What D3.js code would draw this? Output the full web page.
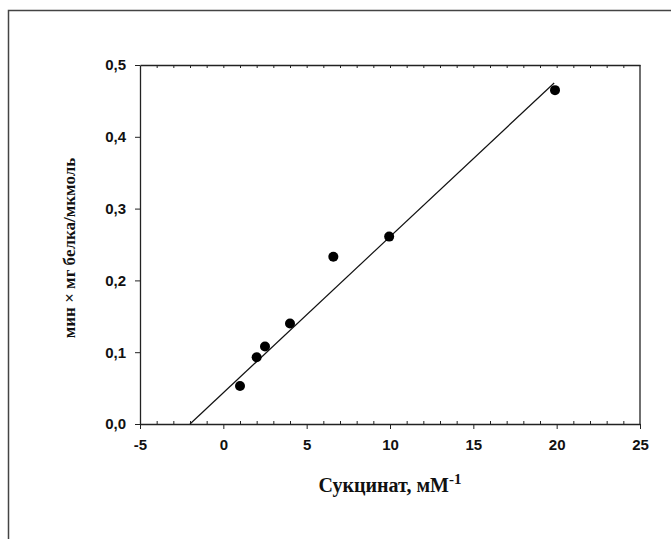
<!DOCTYPE html>
<html lang="ru">
<head>
  <meta charset="UTF-8">
  <title>Сукцинат</title>
  <script src="https://d3js.org/d3.v7.min.js"></script>
  <style>
    body {
      margin: 0;
      padding: 0;
      background: #fff;
    }
    .tick text {
      font-family: "Liberation Sans", Arial, sans-serif;
      font-weight: bold;
      font-size: 15px;
      fill: #111;
    }
    .axis-title {
      font-family: "Liberation Serif", "Times New Roman", serif;
      font-weight: bold;
      fill: #111;
    }
  </style>
</head>
<body>
  <div id="chart"></div>

  <script>
    // measured points (x = 1/[succinate], y = 1/v)
    const pointX = [1.0, 2.0, 2.5, 4.0, 6.6, 9.95, 19.9];
    const pointY = [0.053, 0.093, 0.108, 0.140, 0.233, 0.261, 0.465];

    // regression line ends
    const fitX = [-2.0, 19.85];
    const fitY = [0.0, 0.475];

    const xTicks = [-5, 0, 5, 10, 15, 20, 25];
    const yTicks = [0.0, 0.1, 0.2, 0.3, 0.4, 0.5];

    const width = 671, height = 539;

    const svg = d3.select("#chart").append("svg")
      .attr("width", width)
      .attr("height", height);

    // outer frame (top and left edges only are visible)
    svg.append("path")
      .attr("d", `M8.5,${height} V10.5 H${width}`)
      .attr("fill", "none")
      .attr("stroke", "#444")
      .attr("stroke-width", 1.5);

    const x = d3.scaleLinear().domain([-5, 25]).range([140, 640]);
    const y = d3.scaleLinear().domain([0, 0.5]).range([424, 65]);

    const minorX = d3.range(-5, 26, 1);

    // bottom axis: major ticks down, minor ticks up
    const bottom = svg.append("g")
      .attr("transform", `translate(0,${y(0)})`)
      .call(d3.axisBottom(x).tickValues(xTicks).tickSize(5).tickPadding(10)
        .tickFormat(d => String(d)).tickSizeOuter(0));
    bottom.select(".domain").attr("stroke", "#222").attr("stroke-width", 1.3);
    bottom.selectAll(".tick line").attr("stroke", "#222");

    svg.append("g")
      .attr("transform", `translate(0,${y(0)})`)
      .call(d3.axisTop(x).tickValues(minorX.filter(v => v % 5 !== 0)).tickSize(3)
        .tickFormat("").tickSizeOuter(0))
      .call(g => g.select(".domain").remove())
      .selectAll(".tick line").attr("stroke", "#222");

    // top axis: ticks inward every unit
    svg.append("g")
      .attr("transform", `translate(0,${y(0.5)})`)
      .call(d3.axisBottom(x).tickValues(minorX.slice(1, -1)).tickSize(3)
        .tickFormat("").tickSizeOuter(0))
      .call(g => g.select(".domain").attr("stroke", "#222").attr("stroke-width", 1.3))
      .selectAll(".tick line").attr("stroke", "#222");

    // left axis
    const left = svg.append("g")
      .attr("transform", `translate(${x(-5)},0)`)
      .call(d3.axisLeft(y).tickValues(yTicks).tickSize(5).tickPadding(9)
        .tickFormat(d => d.toFixed(1).replace(".", ",")).tickSizeOuter(0));
    left.select(".domain").attr("stroke", "#222").attr("stroke-width", 1.3);
    left.selectAll(".tick line").attr("stroke", "#222");

    // right edge
    svg.append("line")
      .attr("x1", x(25)).attr("x2", x(25))
      .attr("y1", y(0)).attr("y2", y(0.5))
      .attr("stroke", "#222").attr("stroke-width", 1.3);

    // fitted line
    const line = d3.line()
      .x(d => x(d[0]))
      .y(d => y(d[1]));
    svg.append("path")
      .datum(fitX.map((v, i) => [v, fitY[i]]))
      .attr("d", line)
      .attr("fill", "none")
      .attr("stroke", "#111")
      .attr("stroke-width", 1.2);

    // points
    svg.selectAll(".pt")
      .data(pointX.map((v, i) => [v, pointY[i]]))
      .enter().append("circle")
      .attr("class", "pt")
      .attr("cx", d => x(d[0]))
      .attr("cy", d => y(d[1]))
      .attr("r", 5)
      .attr("fill", "#000");

    // axis titles
    const xt = svg.append("text")
      .attr("class", "axis-title")
      .attr("x", 390)
      .attr("y", 492)
      .attr("text-anchor", "middle")
      .style("font-size", "20px");
    xt.append("tspan").text("Сукцинат, мМ");
    xt.append("tspan").attr("dy", -8).style("font-size", "15px").text("-1");

    svg.append("text")
      .attr("class", "axis-title")
      .attr("transform", `translate(75,248) rotate(-90)`)
      .attr("text-anchor", "middle")
      .style("font-size", "17px")
      .text("мин × мг белка/мкмоль");
  </script>
</body>
</html>
